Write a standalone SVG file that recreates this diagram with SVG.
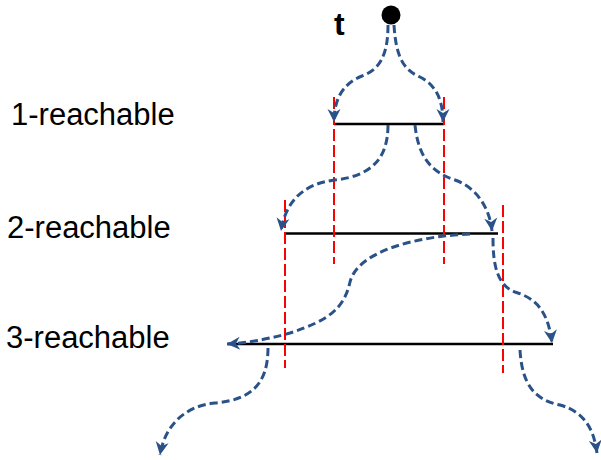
<svg xmlns="http://www.w3.org/2000/svg" width="601" height="460" viewBox="0 0 601 460">
<style>
.lbl{font-family:"Liberation Sans",Arial,sans-serif;font-size:31px;fill:#000}
.lvl{stroke:#000;stroke-width:2.5;fill:none}
.bnd{stroke:#ff0000;stroke-width:2;stroke-dasharray:12 4;fill:none}
.path{stroke:#2a5288;stroke-width:3;stroke-dasharray:8 4;fill:none}
.arr{marker-end:url(#ah)}
</style>
<defs>
<marker id="ah" markerUnits="userSpaceOnUse" viewBox="-14 -8 16 16" refX="0" refY="0" markerWidth="16" markerHeight="16" orient="auto">
<path d="M0,0 L-13,-6.5 L-9,0 L-13,6.5 Z" fill="#2a5288"/>
</marker>
</defs>
<rect width="601" height="460" fill="#fff"/>
<g id="labels">
<text class="lbl" x="334" y="35" style="font-size:32px;font-weight:bold">t</text>
<text class="lbl" x="11" y="125">1-reachable</text>
<text class="lbl" x="7" y="238">2-reachable</text>
<text class="lbl" x="6" y="348">3-reachable</text>
</g>
<g id="levels">
<line class="lvl" x1="334" y1="124" x2="444" y2="124"/>
<line class="lvl" x1="285" y1="233.5" x2="498" y2="233.5"/>
<line class="lvl" x1="228" y1="344" x2="553" y2="344"/>
</g>
<g id="boundaries">
<line class="bnd" x1="334" y1="97" x2="334" y2="264"/>
<line class="bnd" x1="444" y1="97" x2="444" y2="264"/>
<line class="bnd" x1="285" y1="200" x2="285" y2="368"/>
<line class="bnd" x1="503" y1="205" x2="503" y2="373"/>
</g>
<g id="source">
<circle cx="391" cy="15" r="9.5" fill="#000"/>
</g>
<g id="connectors">
<path class="path arr" d="M388,25 C388,58 378,70 362,76 C342,84 334,100 334,122"/>
<path class="path arr" d="M394,25 C396,58 404,70 420,77 C436,85 443,100 443,122"/>
<path class="path arr" d="M388,125 C388,160 370,176 335,180 C300,184 285,205 281,231"/>
<path class="path arr" d="M415,125 C418,155 430,172 455,180 C478,188 490,210 492,231"/>
<path class="path arr" d="M470,234 C420,236 358,250 350,282 C344,308 330,320 290,333 C265,340 245,343 227,344"/>
<path class="path arr" d="M493,238 C493,265 497,285 515,292 C535,298 548,310 552,343"/>
<path class="path arr" d="M268,348 C268,385 250,400 215,403 C185,406 165,425 160,455"/>
<path class="path arr" d="M520,350 C522,385 535,400 560,405 C585,412 594,430 597,453"/>
</g>
</svg>
